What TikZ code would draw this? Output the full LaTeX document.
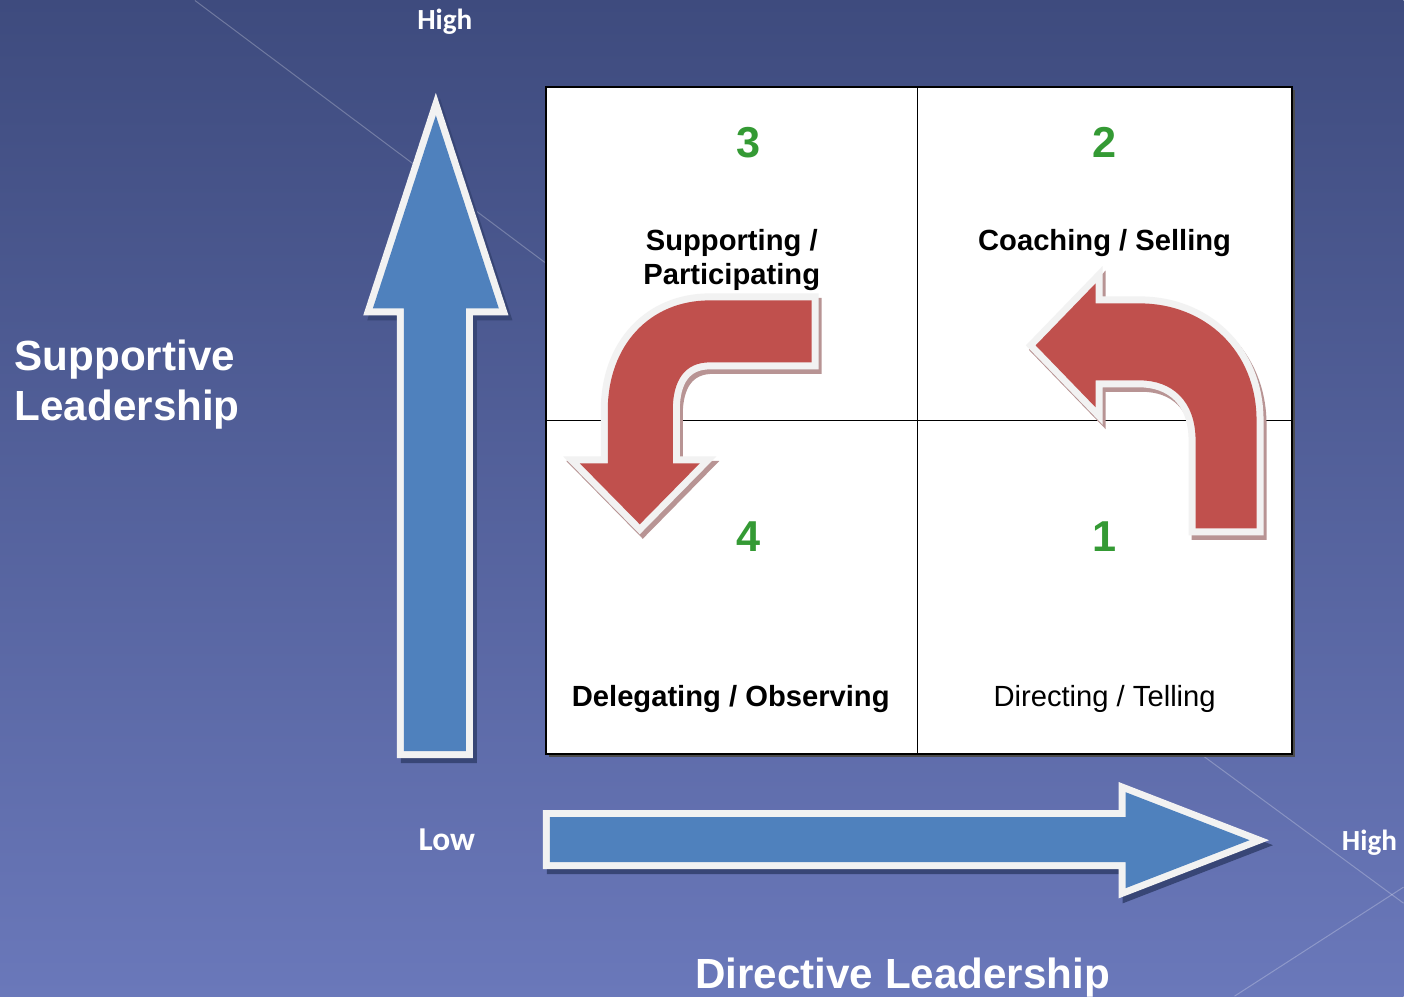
\documentclass[tikz,border=0pt]{standalone}
\usepackage{fontspec}
\setmainfont{Liberation Sans}
\newfontfamily\calibri{Carlito}
\usetikzlibrary{positioning}

\definecolor{bgtop}{RGB}{62,75,126}
\definecolor{bgbottom}{RGB}{106,120,186}
\definecolor{arrowblue}{RGB}{79,129,189}
\definecolor{arrowred}{RGB}{192,80,77}
\definecolor{rim}{RGB}{242,242,242}
\definecolor{blueshadow}{RGB}{56,70,118}
\definecolor{redshadow}{RGB}{184,148,148}
\definecolor{stepgreen}{RGB}{52,154,52}

\begin{document}
\begin{tikzpicture}[
    x=0.01cm, y=-0.01cm,
    bluearrow/.style={fill=arrowblue, line join=miter,
        preaction={fill=blueshadow, draw=blueshadow, line width=1.4mm,
            transform canvas={shift={(0.04cm,-0.05cm)}}},
        preaction={draw=rim, line width=1.4mm}},
    redarrow/.style={fill=arrowred, line join=miter,
        preaction={fill=redshadow, draw=redshadow, line width=1.4mm,
            transform canvas={shift={(0.03cm,-0.045cm)}}},
        preaction={draw=rim, line width=1.4mm}},
    axisnote/.style={inner sep=0, text=white, font=\calibri\bfseries\fontsize{8.3}{10}\selectfont},
    axistitle/.style={inner sep=0, text=white, align=left, font=\bfseries\fontsize{12}{14.2}\selectfont},
    stepnum/.style={inner sep=0, text=stepgreen, font=\bfseries\fontsize{12.3}{14}\selectfont},
    stylename/.style={inner sep=0, align=center, font=\bfseries\fontsize{8.3}{9.7}\selectfont}
    ]
        %Background
        \shade[top color=bgtop, bottom color=bgbottom] (0,0) rectangle (1404,996);
        \draw[white, opacity=0.25, line width=0.1mm] (195,0) -- (545,262);
        \draw[white, opacity=0.25, line width=0.1mm] (1204,756) -- (1404,903);
        \draw[white, opacity=0.25, line width=0.1mm] (1404,887) -- (1235,996);

        %Grid
        \fill[black!70] (549,90) rectangle (1295,757);
        \draw[fill=white, line width=0.2mm] (546,87) rectangle (1292,754);
        \draw[line width=0.15mm] (918,87) -- (918,754);
        \draw[line width=0.15mm] (546,420) -- (1292,420);

        %Axis arrows
        \path[bluearrow] (436,115) -- (373,308) -- (404,308) -- (404,751)
            -- (466,751) -- (466,308) -- (499,308) -- cycle;
        \path[bluearrow] (550,817) -- (1126,817) -- (1126,792) -- (1250,840)
            -- (1126,888) -- (1126,862) -- (550,862) -- cycle;

        %Turn arrows
        \path[redarrow] (812,300) -- (710,300) .. controls (650,300) and (608,345) .. (608,410)
            -- (608,463) -- (580,463) -- (640,524) -- (700,463) -- (673,463) -- (673,410)
            .. controls (673,380) and (685,362) .. (710,362) -- (812,362) -- cycle;
        \path[redarrow] (1096,283) -- (1036,345) -- (1096,407) -- (1096,380) -- (1140,380)
            .. controls (1172,380) and (1196,400) .. (1196,440) -- (1196,528) -- (1257,528)
            -- (1257,420) .. controls (1257,350) and (1205,303) .. (1140,303) -- (1096,303) -- cycle;

        %Nodes
        \node[axisnote, anchor=base] (supHigh) at (445,29) {High};
        \node[axisnote, anchor=base, font=\calibri\bfseries\fontsize{9.5}{11}\selectfont]
            (dirLow) at (447,850) {Low};
        \node[axisnote, anchor=base] (dirHigh) at (1370,850) {High};
        \node[axistitle, anchor=base west] (supTitle) at (14,420) {Supportive\\Leadership};
        \node[axistitle, anchor=base] (dirTitle) at (903,988) {Directive Leadership};

        \node[stepnum, anchor=base] (n3) at (749,157) {3};
        \node[stepnum, anchor=base] (n2) at (1105,157) {2};
        \node[stepnum, anchor=base] (n4) at (749,551) {4};
        \node[stepnum, anchor=base] (n1) at (1105,551) {1};

        \node[stylename, anchor=base] (supporting) at (732,284) {Supporting /\\Participating};
        \node[stylename, anchor=base] (coaching) at (1105,250) {Coaching / Selling};
        \node[stylename, anchor=base] (delegating) at (731,706) {Delegating / Observing};
        \node[stylename, anchor=base, font=\fontsize{8.3}{9.7}\selectfont]
            (directing) at (1105,706) {Directing / Telling};
\end{tikzpicture}
\end{document}
